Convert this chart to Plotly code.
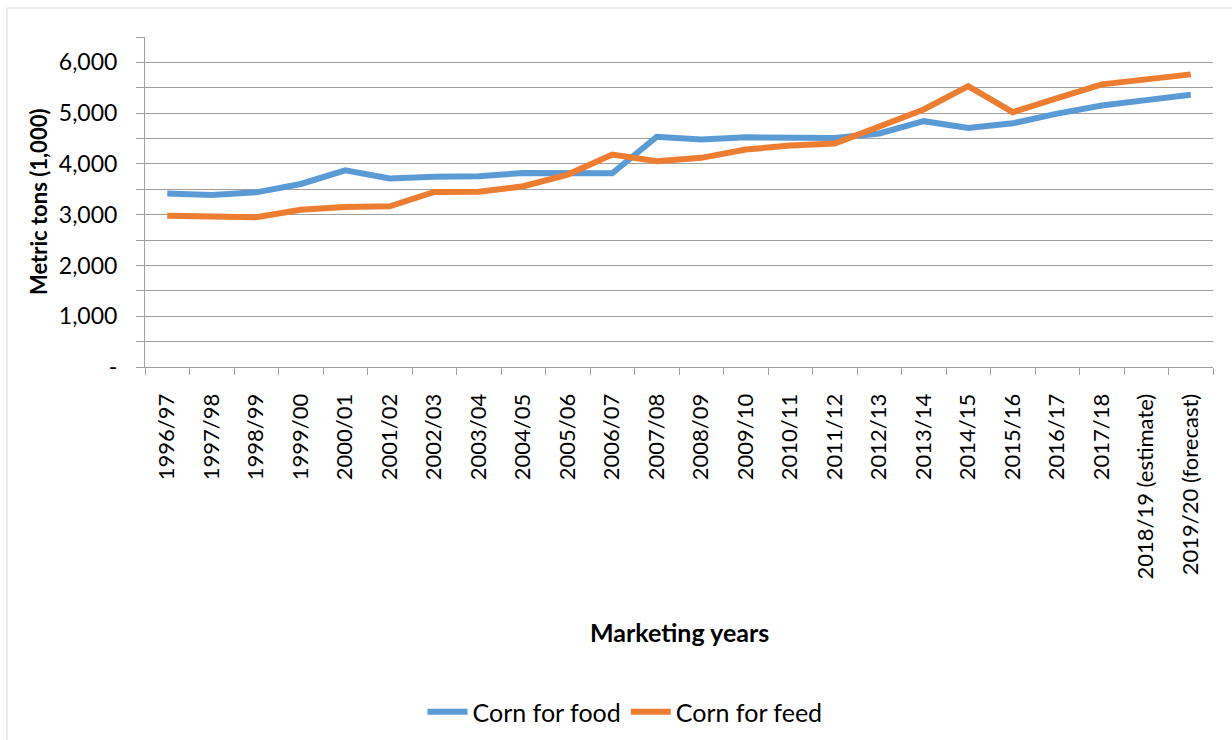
import plotly.graph_objects as go

years = ["1996/97", "1997/98", "1998/99", "1999/00", "2000/01", "2001/02", "2002/03",
         "2003/04", "2004/05", "2005/06", "2006/07", "2007/08", "2008/09", "2009/10",
         "2010/11", "2011/12", "2012/13", "2013/14", "2014/15", "2015/16", "2016/17",
         "2017/18", "2018/19 (estimate)", "2019/20 (forecast)"]
corn_food = [3415, 3390, 3440, 3605, 3875, 3715, 3745, 3757, 3823, 3815, 3815, 4535,
             4480, 4525, 4525, 4510, 4600, 4842, 4710, 4800, 4990, 5152, 5257, 5363]
corn_feed = [2981, 2967, 2948, 3099, 3152, 3165, 3448, 3450, 3560, 3790, 4185, 4053,
             4120, 4283, 4363, 4400, 4745, 5073, 5533, 5020, 5295, 5567, 5665, 5764]
y_tickvals = [0, 500, 1000, 1500, 2000, 2500, 3000, 3500, 4000, 4500, 5000, 5500, 6000, 6500]
y_ticktext = ["-", "", "1,000", "", "2,000", "", "3,000", "", "4,000", "", "5,000", "", "6,000", ""]

FONT = "Lato"
W, H = 1232, 740
L, R, T, B = 145, 1213, 37, 367
pw, ph = R - L, B - T

def px(x):
    return (x - L) / pw

def py(y):
    return (B - y) / ph

fig = go.Figure()
fig.add_trace(go.Scatter(x=years, y=corn_food, mode="lines", name="Corn for food",
                         line=dict(color="#5B9BD5", width=6)))
fig.add_trace(go.Scatter(x=years, y=corn_feed, mode="lines", name="Corn for feed",
                         line=dict(color="#ED7D31", width=6)))

fig.update_layout(
    width=W, height=H,
    margin=dict(l=L, r=W - R, t=T, b=H - B, autoexpand=False),
    paper_bgcolor="white", plot_bgcolor="white",
    font=dict(family=FONT, size=23, color="black"),
    showlegend=True,
    legend=dict(orientation="h", x=px(625), y=py(712), xanchor="center", yanchor="middle",
                font=dict(size=25), itemwidth=40, traceorder="normal"),
    xaxis=dict(type="category", range=[-0.5, len(years) - 0.5], tickson="boundaries",
               ticks="outside", ticklen=7,
               tickcolor="#a0a0a0", showline=True, linecolor="#a0a0a0", linewidth=1,
               showgrid=False, tickangle=-90, tickfont=dict(size=22),
               automargin=False, ticklabelstandoff=17),
    yaxis=dict(range=[0, 6500], tickvals=y_tickvals, ticktext=y_ticktext,
               ticks="outside", ticklen=8, tickcolor="#a0a0a0",
               showline=True, linecolor="#a0a0a0", linewidth=1,
               showgrid=True, gridcolor="#a0a0a0", gridwidth=1, zeroline=False,
               tickfont=dict(size=23), automargin=False, ticklabelstandoff=14),
    annotations=[
        dict(text="<b>Metric tons (1,000)</b>", xref="paper", yref="paper",
             x=px(38), y=py(202), textangle=-90, showarrow=False,
             xanchor="center", yanchor="middle", font=dict(size=22)),
        dict(text="<b>Marketing years</b>", xref="paper", yref="paper",
             x=px(679), y=py(632), showarrow=False,
             xanchor="center", yanchor="middle", font=dict(size=25)),
    ],
    shapes=[
        dict(type="rect", xref="paper", yref="paper", x0=px(7), x1=px(1260),
             y0=py(760), y1=py(8), line=dict(color="#d9d9d9", width=1), layer="below"),
    ],
)

fig.write_html("out.html", config={"displayModeBar": False},
               post_script="document.body.style.margin='0';document.body.style.overflow='hidden';")
